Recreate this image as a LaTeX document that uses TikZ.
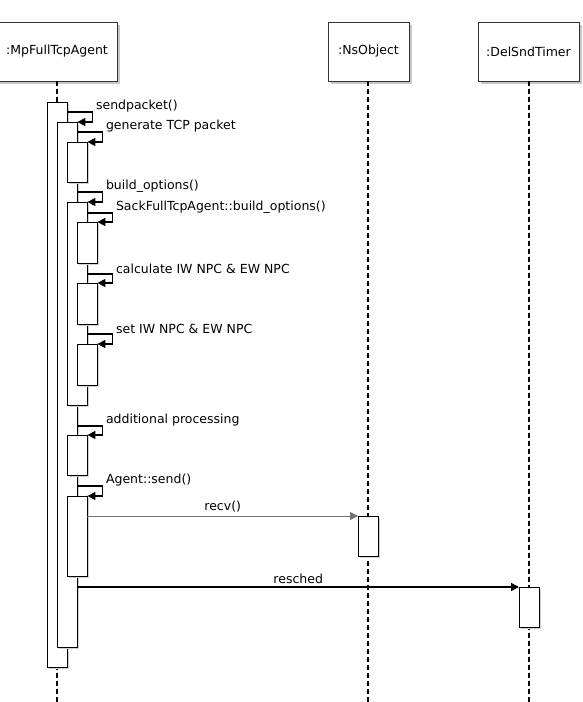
\documentclass[tikz,border=0pt]{standalone}
\usepackage{fontspec}
\setmainfont{DejaVu Sans}
\usetikzlibrary{arrows.meta,shadows}
\newcommand{\actwidth}{20pt}
\newcommand{\tipsize}{8pt}

\begin{document}
\begin{tikzpicture}[x=1pt,y=-1pt,
    font=\fontsize{12.5}{14}\selectfont,
    obj/.style={draw=black!80, fill=white, inner sep=0pt, minimum height=59pt,
      drop shadow={shadow xshift=2.5pt, shadow yshift=-2.5pt, fill=black!22, opacity=1}},
    act/.style={draw, fill=white, inner sep=0pt, minimum width=\actwidth, anchor=north west,
      drop shadow={shadow xshift=2pt, shadow yshift=-2pt, fill=black!18, opacity=1}},
    life/.style={line width=1.3pt, dash pattern=on 5pt off 3pt},
    self/.style={line width=1.3pt, -{Triangle[length=\tipsize, width=\tipsize]}},
    msg/.style={line width=1pt, -{Triangle[length=\tipsize, width=\tipsize]}},
    lbl/.style={anchor=west, inner sep=0pt, xshift=3pt, yshift=5.5pt}]
  \useasboundingbox (0,0) rectangle (583,702);

      %% objects and their lifelines %%
  \node[obj, minimum width=120pt] (mp) at (57,51.5) {:MpFullTcpAgent};
  \node[obj, minimum width=81pt] (ns) at (368.5,51.5) {:NsObject};
  \node[obj, minimum width=101pt] (timer) at (528.5,51.5) {:DelSndTimer};
  \coordinate (mpEnd) at (57,702);
  \coordinate (nsEnd) at (368,702);
  \coordinate (timerEnd) at (529,702);
  \draw[life] (mp.south) -- (mpEnd);
  \draw[life] (ns.south -| nsEnd) -- (nsEnd);
  \draw[life] (timer.south -| timerEnd) -- (timerEnd);

      %% activations %%
  \foreach \n/\x/\y/\h in {A1/47/102/565, A2/57/122/525, A3/67/142/40, A4/67/202/203,
      A5/77/222/41, A6/77/283/41, A7/77/344/41, A8/67/435/40, A9/67/496/80,
      B1/358/516/40, C1/519/587/40}
  { \node[act, minimum height=\h pt] (\n) at (\x,\y) {};}

      %% self calls %%
  \foreach \src/\yy/\dst/\txt in {A1/112/A2/sendpacket(), A2/132/A3/generate TCP packet,
      A2/192/A4/build\_options(), A4/213/A5/SackFullTcpAgent::build\_options(),
      A4/274/A6/calculate IW NPC \& EW NPC, A4/334/A7/set IW NPC \& EW NPC,
      A2/426/A8/additional processing, A2/486/A9/Agent::send()}
  { \draw[self] (\src.east |- 0,\yy) -- ++(25,0) node[lbl] {\txt} |- (\dst.north east);}

      %% calls to the other objects %%
  \draw[msg, draw=black!55] (A9.east |- B1.north) -- (B1.north west)
    node[midway, above=3pt, inner sep=0pt] {recv()};
  \draw[self] (A2.east |- C1.north) -- (C1.north west)
    node[midway, above=3pt, inner sep=0pt] {resched};
\end{tikzpicture}
\end{document}
